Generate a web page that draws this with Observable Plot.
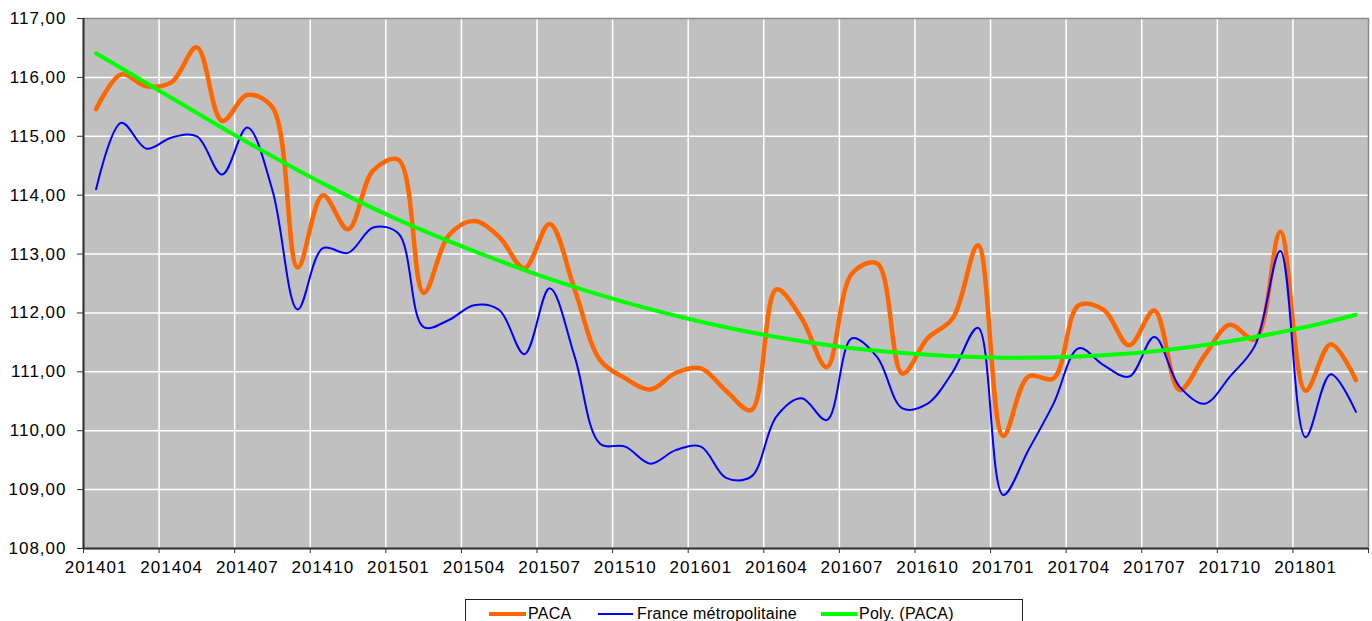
<!DOCTYPE html>
<html><head><meta charset="utf-8">
<script src="https://cdn.jsdelivr.net/npm/d3@7"></script>
<script src="https://cdn.jsdelivr.net/npm/@observablehq/plot@0.6"></script>
<style>
body{margin:0;background:#fff;overflow:hidden;font-family:"Liberation Sans",Arial,sans-serif;}
#wrap{position:relative;width:1372px;height:621px;overflow:hidden;}
#wrap svg{position:absolute;left:0;top:0;}
#legend{position:absolute;left:465px;top:599px;width:558px;height:40px;border:1px solid #222;box-sizing:border-box;background:#fff;}
.ln{position:absolute;}
.lt{position:absolute;top:606px;font-size:16px;line-height:16px;color:#000;letter-spacing:0.25px;white-space:nowrap;}
</style></head><body><div id="wrap"><div id="legend"></div>
<div class="ln" style="left:489px;top:612px;width:37px;height:4px;background:#ff6600"></div>
<div class="lt" style="left:528px">PACA</div>
<div class="ln" style="left:598px;top:613px;width:35px;height:2px;background:#0000ff"></div>
<div class="lt" style="left:637px">France métropolitaine</div>
<div class="ln" style="left:821px;top:612px;width:36px;height:4px;background:#00ff00"></div>
<div class="lt" style="left:859px">Poly. (PACA)</div>
</div>
<script>
const months = ["201401","201402","201403","201404","201405","201406","201407","201408","201409","201410","201411","201412",
"201501","201502","201503","201504","201505","201506","201507","201508","201509","201510","201511","201512",
"201601","201602","201603","201604","201605","201606","201607","201608","201609","201610","201611","201612",
"201701","201702","201703","201704","201705","201706","201707","201708","201709","201710","201711","201712",
"201801","201802","201803"];

const paca = [115.46,116.05,115.85,115.92,116.51,115.26,115.70,115.49,112.77,114.00,113.42,114.42,
114.60,112.34,113.32,113.56,113.29,112.76,113.51,112.39,111.20,110.89,110.70,110.98,
111.06,110.68,110.35,112.40,111.91,111.08,112.67,112.84,110.97,111.57,111.91,113.15,
109.91,110.92,110.89,112.13,112.05,111.45,112.04,110.69,111.28,111.80,111.55,113.38,
110.68,111.47,110.86];

const france = [114.10,115.23,114.79,114.98,115.00,114.35,115.15,114.08,112.06,113.10,113.02,113.45,
113.35,111.76,111.88,112.13,112.05,111.30,112.42,111.25,109.78,109.73,109.44,109.67,
109.73,109.20,109.22,110.24,110.55,110.18,111.57,111.25,110.38,110.46,111.00,111.75,
108.91,109.67,110.46,111.40,111.11,110.92,111.59,110.75,110.46,110.92,111.45,113.05,
109.89,110.96,110.32];

const polyMonths = ["201401","201404","201407","201410","201501","201504","201507","201510","201601",
"201604","201607","201610","201701","201704","201707","201710","201801","201803"];
const polyValues = [116.41,115.65,114.90,114.20,113.58,113.05,112.58,112.18,111.85,
111.59,111.40,111.29,111.24,111.26,111.35,111.52,111.76,111.97];

const xLabels = ["201401","201404","201407","201410","201501","201504","201507","201510","201601",
"201604","201607","201610","201701","201704","201707","201710","201801"];
const yTicks = [108,109,110,111,112,113,114,115,116,117];

const pos = m => months.indexOf(m) + 0.5;
const pacaData = months.map((m, i) => ({x: pos(m), y: paca[i]}));
const franceData = months.map((m, i) => ({x: pos(m), y: france[i]}));
const polyData = polyMonths.map((m, i) => ({x: pos(m), y: polyValues[i]}));
const boundaries = d3.range(0, months.length + 1, 3);
const fmtY = d => d.toFixed(2).replace(".", ",");

const chart = Plot.plot({
  width: 1372, height: 590,
  marginTop: 18, marginLeft: 83, marginRight: 4, marginBottom: 42,
  style: {fontFamily: "Liberation Sans, Arial, sans-serif", fontSize: "17px", color: "#000", background: "transparent", letterSpacing: "1px"},
  x: {domain: [0, months.length], axis: null, label: null},
  y: {domain: [108, 117], axis: null, label: null},
  marks: [
    Plot.frame({fill: "#c0c0c0"}),
    Plot.gridY(yTicks.slice(1, -1), {stroke: "#fff", strokeOpacity: 1, strokeWidth: 1.5}),
    Plot.gridX(boundaries.slice(1, -1), {stroke: "#fff", strokeOpacity: 1, strokeWidth: 1.5}),
    Plot.line(pacaData, {x: "x", y: "y", stroke: "#ff6600", strokeWidth: 4.5, curve: "catmull-rom"}),
    Plot.line(franceData, {x: "x", y: "y", stroke: "#0000ff", strokeWidth: 2, curve: "catmull-rom"}),
    Plot.line(polyData, {x: "x", y: "y", stroke: "#00ff00", strokeWidth: 4, curve: "catmull-rom"}),
    Plot.frame({stroke: "#8a8a8a", strokeWidth: 1.5}),
    Plot.ruleX([0], {stroke: "#333", strokeWidth: 2}),
    Plot.ruleY([108], {stroke: "#333", strokeWidth: 2}),
    Plot.axisY({ticks: yTicks, tickSize: 6, tickPadding: 11, tickFormat: fmtY, stroke: "#333", fill: "#000", label: null}),
    Plot.axisX({ticks: boundaries, tickSize: 5, tickFormat: () => "", stroke: "#333", label: null}),
    Plot.axisX({ticks: xLabels.map(pos), tickSize: 0, tickPadding: 12, tickFormat: v => months[Math.round(v - 0.5)], fill: "#000", label: null})
  ]
});
document.getElementById("wrap").prepend(chart);
</script>
</body></html>
